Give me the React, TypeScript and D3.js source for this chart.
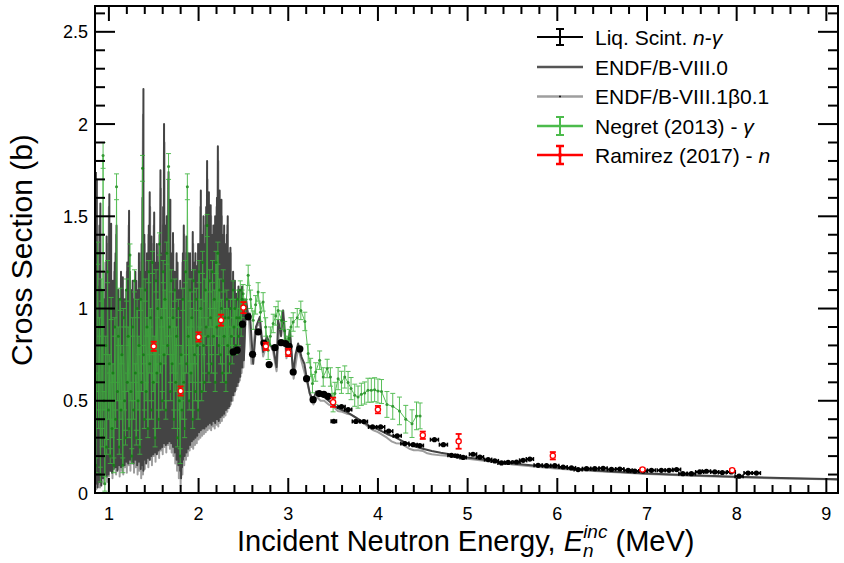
import React from "react";
import * as d3 from "d3";

// ---------------- DATA ----------------
const xMajorTicks = [1, 2, 3, 4, 5, 6, 7, 8, 9];
const xTickLabels = ["1", "2", "3", "4", "5", "6", "7", "8", "9"];
const yMajorTicks = [0, 0.5, 1, 1.5, 2, 2.5];
const yTickLabels = ["0", "0.5", "1", "1.5", "2", "2.5"];

// ENDF/B-VIII.0 resonance region: [E, peak, dip]
const endf80Dense: [number, number, number][] = [
  [0.855,1.74,0.05],[0.865,1.70,0.10],[0.875,1.12,0.03],[0.885,1.05,0.12],[0.895,1.45,0.06],[0.905,1.57,0.10],
  [0.915,0.95,0.04],[0.925,1.10,0.15],[0.935,0.90,0.08],[0.945,1.05,0.12],[0.955,0.85,0.10],[0.965,1.20,0.18],
  [0.975,1.39,0.09],[0.985,0.95,0.14],[0.995,1.10,0.10],[1.005,1.62,0.16],[1.015,1.20,0.12],[1.025,1.46,0.20],
  [1.035,1.00,0.11],[1.045,1.15,0.17],[1.055,0.90,0.13],[1.065,1.25,0.22],[1.075,1.30,0.14],[1.085,1.45,0.18],
  [1.095,1.00,0.12],[1.105,1.10,0.20],[1.115,0.95,0.15],[1.125,1.05,0.22],[1.135,1.20,0.14],[1.145,0.90,0.19],
  [1.155,1.17,0.16],[1.165,1.00,0.24],[1.175,1.05,0.15],[1.185,0.95,0.20],[1.195,1.10,0.17],[1.205,1.25,0.25],
  [1.215,1.05,0.16],[1.225,1.53,0.21],[1.235,1.20,0.18],[1.245,1.00,0.26],[1.255,1.10,0.17],[1.265,1.15,0.22],
  [1.275,0.95,0.16],[1.285,1.05,0.24],[1.295,1.20,0.18],[1.305,1.15,0.20],[1.315,0.95,0.15],[1.325,1.10,0.23],
  [1.335,1.30,0.17],[1.345,1.05,0.20],[1.355,1.20,0.13],[1.365,1.35,0.21],[1.375,1.60,0.15],[1.385,2.19,0.12],
  [1.395,1.40,0.18],[1.405,1.20,0.22],[1.415,1.10,0.16],[1.425,1.30,0.25],[1.435,1.25,0.19],[1.445,1.45,0.23],
  [1.455,1.63,0.18],[1.465,1.20,0.27],[1.475,1.39,0.20],[1.485,1.10,0.24],[1.495,1.30,0.21],[1.505,1.52,0.28],
  [1.515,1.25,0.22],[1.525,1.15,0.26],[1.535,1.35,0.21],[1.545,1.10,0.30],[1.555,1.25,0.23],[1.565,1.40,0.27],
  [1.575,1.75,0.24],[1.585,1.30,0.31],[1.595,1.20,0.25],[1.605,1.55,0.29],[1.615,2.00,0.27],[1.625,1.45,0.33],
  [1.635,1.30,0.26],[1.645,1.50,0.30],[1.655,1.35,0.27],[1.665,1.74,0.32],[1.675,1.40,0.28],[1.685,1.59,0.34],
  [1.695,1.25,0.27],[1.705,1.30,0.30],[1.715,1.41,0.25],[1.725,1.15,0.28],[1.735,1.20,0.22],[1.745,1.05,0.26],
  [1.755,1.30,0.18],[1.765,1.25,0.22],[1.775,1.10,0.15],[1.785,1.00,0.19],[1.795,1.15,0.12],[1.805,0.95,0.08],
  [1.815,1.10,0.14],[1.825,1.30,0.18],[1.835,1.45,0.22],[1.845,1.20,0.20],[1.855,1.10,0.26],[1.865,1.39,0.22],
  [1.875,1.25,0.28],[1.885,1.30,0.24],[1.895,1.15,0.30],[1.905,1.30,0.26],[1.915,1.20,0.32],[1.925,1.10,0.28],
  [1.935,1.415,0.31],[1.945,1.25,0.29],[1.955,1.20,0.34],[1.965,1.30,0.30],[1.975,1.10,0.33],[1.985,1.23,0.31],
  [1.995,1.35,0.36],[2.005,1.20,0.33],[2.015,1.35,0.37],[2.025,1.64,0.34],[2.035,1.40,0.38],[2.045,1.30,0.35],
  [2.055,1.50,0.39],[2.065,1.35,0.35],[2.075,1.25,0.38],[2.085,1.55,0.36],[2.095,1.80,0.40],[2.105,1.40,0.37],
  [2.115,1.63,0.41],[2.125,1.35,0.38],[2.135,1.56,0.40],[2.145,1.40,0.37],[2.155,1.30,0.42],[2.165,1.45,0.39],
  [2.175,1.30,0.41],[2.185,1.50,0.38],[2.195,1.40,0.43],[2.205,1.60,0.40],[2.215,1.88,0.42],[2.225,1.50,0.39],
  [2.235,1.64,0.44],[2.245,1.35,0.41],[2.255,1.59,0.43],[2.265,1.40,0.42],[2.275,1.30,0.46],[2.285,1.45,0.43],
  [2.295,1.35,0.47],[2.305,1.25,0.45],[2.315,1.40,0.48],[2.325,1.50,0.46],[2.335,1.30,0.50],[2.345,1.20,0.47],
  [2.355,1.33,0.52],[2.365,1.15,0.50],[2.375,1.10,0.55],[2.385,1.20,0.53],[2.395,1.05,0.58],[2.405,1.15,0.55],
  [2.415,1.00,0.60],[2.425,1.08,0.58],[2.435,1.05,0.63],[2.445,1.12,0.60],[2.455,1.00,0.66],[2.465,1.10,0.63],
  [2.475,1.05,0.70],[2.485,1.12,0.68],[2.495,0.98,0.74],[2.505,1.05,0.72],
];
const endf80Tail: [number, number][] = [
  [2.53,1.05],[2.55,0.97],[2.572,0.973],[2.609,0.70],[2.64,0.90],[2.683,0.955],[2.72,0.765],[2.76,0.85],
  [2.80,0.80],[2.832,0.79],[2.87,0.683],[2.887,0.937],[2.92,0.85],[2.943,0.99],[2.98,0.756],[3.018,0.88],
  [3.055,0.647],[3.08,0.75],[3.11,0.81],[3.148,0.737],[3.18,0.70],[3.204,0.629],[3.24,0.539],[3.277,0.503],
  [3.31,0.55],[3.35,0.53],[3.4,0.52],[3.45,0.50],[3.5,0.48],[3.55,0.46],[3.6,0.45],[3.65,0.44],[3.7,0.425],
  [3.8,0.395],[3.9,0.365],[4.0,0.345],[4.1,0.32],[4.2,0.30],[4.3,0.275],[4.4,0.255],[4.5,0.24],[4.6,0.228],
  [4.7,0.218],[4.8,0.21],[5.0,0.193],[5.5,0.16],[6.0,0.137],[6.5,0.119],[7.0,0.106],[7.5,0.096],[8.0,0.088],
  [8.5,0.081],[9.0,0.076],[9.15,0.074],
];

// ENDF/B-VIII.1beta0.1 resonance region: [E, peak, dip]
const endf81Dense: [number, number, number][] = [
  [0.86,1.70,0.02],[0.88,1.15,0.05],[0.90,1.50,0.03],[0.92,1.05,0.08],[0.94,1.10,0.05],[0.96,1.25,0.10],
  [0.98,1.35,0.06],[1.00,1.55,0.09],[1.02,1.40,0.12],[1.04,1.10,0.08],[1.06,1.20,0.14],[1.08,1.40,0.10],
  [1.10,1.05,0.13],[1.12,1.00,0.09],[1.14,1.15,0.12],[1.16,1.10,0.10],[1.18,1.00,0.14],[1.20,1.20,0.11],
  [1.22,1.45,0.15],[1.24,1.05,0.12],[1.26,1.10,0.16],[1.28,1.00,0.11],[1.30,1.15,0.14],[1.32,1.05,0.10],
  [1.34,1.25,0.12],[1.36,1.30,0.08],[1.38,2.05,0.10],[1.40,1.35,0.13],[1.42,1.25,0.17],[1.44,1.40,0.14],
  [1.46,1.55,0.18],[1.48,1.35,0.15],[1.50,1.45,0.20],[1.52,1.20,0.17],[1.54,1.30,0.22],[1.56,1.35,0.19],
  [1.58,1.65,0.23],[1.60,1.45,0.21],[1.62,1.90,0.25],[1.64,1.45,0.22],[1.66,1.70,0.26],[1.68,1.50,0.24],
  [1.70,1.25,0.22],[1.72,1.35,0.20],[1.74,1.15,0.16],[1.76,1.25,0.12],[1.78,1.05,0.08],[1.80,1.00,0.04],
  [1.82,1.25,0.10],[1.84,1.40,0.15],[1.86,1.30,0.18],[1.88,1.25,0.20],[1.90,1.25,0.23],[1.92,1.15,0.25],
  [1.94,1.35,0.24],[1.96,1.25,0.26],[1.98,1.15,0.27],[2.00,1.30,0.29],[2.02,1.55,0.30],[2.04,1.35,0.31],
  [2.06,1.45,0.32],[2.08,1.50,0.33],[2.10,1.70,0.34],[2.12,1.55,0.35],[2.14,1.50,0.34],[2.16,1.40,0.36],
  [2.18,1.45,0.35],[2.20,1.55,0.37],[2.22,1.80,0.36],[2.24,1.55,0.38],[2.26,1.50,0.39],[2.28,1.40,0.41],
  [2.30,1.30,0.42],[2.32,1.45,0.44],[2.34,1.25,0.46],[2.36,1.30,0.48],[2.38,1.10,0.50],[2.40,1.15,0.53],
  [2.42,1.05,0.56],[2.44,1.10,0.58],[2.46,1.05,0.61],[2.48,1.10,0.65],[2.50,1.00,0.68],
];
const endf81Tail: [number, number][] = [
  [2.53,1.02],[2.56,0.95],[2.59,0.70],[2.63,0.88],[2.68,0.93],[2.72,0.74],[2.77,0.83],[2.83,0.77],
  [2.87,0.66],[2.90,0.90],[2.94,0.96],[2.98,0.73],[3.02,0.86],[3.06,0.62],[3.11,0.79],[3.15,0.71],
  [3.21,0.60],[3.25,0.52],[3.28,0.48],[3.32,0.52],[3.36,0.50],[3.4,0.50],[3.45,0.48],[3.5,0.47],
  [3.55,0.445],[3.6,0.44],[3.65,0.43],[3.7,0.425],[3.75,0.41],[3.8,0.39],[3.85,0.375],[3.9,0.355],
  [3.95,0.34],[4.0,0.33],[4.05,0.315],[4.1,0.30],[4.15,0.28],[4.2,0.27],[4.25,0.268],[4.3,0.255],
  [4.35,0.24],[4.4,0.232],[4.45,0.232],[4.5,0.228],[4.55,0.215],[4.6,0.21],[4.7,0.204],[4.8,0.20],
  [5.0,0.186],[5.5,0.155],[6.0,0.132],[6.5,0.116],[7.0,0.103],[7.5,0.093],[8.0,0.085],[8.5,0.079],
  [9.0,0.074],[9.15,0.072],
];

// Negret (2013) - gamma: [E, sigma, err]
const negret: [number, number, number][] = [
  [0.855,0.15,0.04],[0.865,0.60,0.05],[0.875,1.30,0.06],[0.885,0.40,0.05],[0.895,0.90,0.05],[0.905,0.10,0.04],
  [0.915,1.10,0.06],[0.925,0.30,0.05],[0.935,1.83,0.07],[0.945,0.50,0.05],[0.955,0.05,0.04],[0.965,0.80,0.05],
  [0.975,0.25,0.04],[0.985,1.20,0.06],[0.995,0.45,0.05],[1.005,0.70,0.05],[1.015,0.20,0.04],[1.025,1.00,0.06],
  [1.035,0.35,0.05],[1.045,0.65,0.05],[1.055,0.15,0.04],[1.065,0.90,0.05],[1.075,0.40,0.05],[1.085,1.66,0.07],
  [1.095,0.55,0.05],[1.105,0.85,0.05],[1.115,0.25,0.04],[1.125,1.05,0.06],[1.135,0.45,0.05],[1.145,0.75,0.05],
  [1.155,0.15,0.04],[1.165,0.95,0.05],[1.175,0.50,0.05],[1.185,0.30,0.04],[1.195,1.10,0.06],[1.205,0.60,0.05],
  [1.215,0.85,0.05],[1.225,0.35,0.05],[1.235,1.29,0.06],[1.245,0.55,0.05],[1.255,0.20,0.04],[1.265,0.90,0.05],
  [1.275,0.45,0.05],[1.285,1.15,0.06],[1.295,0.65,0.05],[1.305,0.30,0.04],[1.315,1.00,0.05],[1.325,0.50,0.05],
  [1.335,0.80,0.05],[1.345,0.25,0.04],[1.355,1.05,0.06],[1.365,0.60,0.05],[1.375,1.76,0.07],[1.385,0.75,0.05],
  [1.395,0.40,0.05],[1.405,1.10,0.06],[1.415,0.55,0.05],[1.425,0.90,0.05],[1.435,0.35,0.05],[1.445,1.20,0.06],
  [1.455,0.70,0.05],[1.465,0.95,0.05],[1.475,0.45,0.05],[1.485,1.25,0.06],[1.495,0.60,0.05],[1.505,0.80,0.05],
  [1.515,0.30,0.05],[1.525,1.15,0.06],[1.535,0.65,0.05],[1.545,1.00,0.05],[1.555,0.40,0.05],[1.565,1.35,0.06],
  [1.575,0.70,0.05],[1.585,0.95,0.05],[1.595,0.50,0.05],[1.605,1.20,0.06],[1.615,0.75,0.05],[1.625,1.05,0.05],
  [1.635,0.45,0.05],[1.645,1.30,0.06],[1.655,0.80,0.05],[1.665,1.77,0.07],[1.675,0.90,0.05],[1.685,0.55,0.05],
  [1.695,1.15,0.06],[1.705,0.70,0.05],[1.715,0.95,0.05],[1.725,0.40,0.05],[1.735,1.10,0.06],[1.745,0.60,0.05],
  [1.755,0.85,0.05],[1.765,0.30,0.05],[1.775,1.00,0.05],[1.785,0.50,0.05],[1.795,0.20,0.04],[1.805,0.75,0.05],
  [1.815,0.45,0.05],[1.825,1.05,0.06],[1.835,0.60,0.05],[1.845,0.35,0.05],[1.855,1.20,0.06],[1.865,0.70,0.05],
  [1.875,1.66,0.07],[1.885,0.85,0.05],[1.895,0.50,0.05],[1.905,1.10,0.06],[1.915,0.65,0.05],[1.925,0.95,0.05],
  [1.935,0.40,0.05],[1.945,1.15,0.06],[1.955,0.75,0.05],[1.965,0.55,0.05],[1.975,1.05,0.06],[1.985,0.80,0.05],
  [1.995,0.45,0.05],[2.005,1.20,0.06],[2.015,0.85,0.05],[2.025,1.00,0.05],[2.035,0.55,0.05],[2.045,1.25,0.06],
  [2.055,0.80,0.05],[2.065,0.60,0.05],[2.075,1.10,0.06],[2.085,0.90,0.05],[2.095,1.45,0.06],[2.105,0.85,0.05],
  [2.115,0.65,0.05],[2.125,1.15,0.06],[2.135,0.95,0.05],[2.145,0.70,0.05],[2.155,1.20,0.06],[2.165,0.85,0.05],
  [2.175,1.05,0.05],[2.185,0.60,0.05],[2.195,1.25,0.06],[2.205,0.90,0.05],[2.215,1.30,0.06],[2.225,0.80,0.05],
  [2.235,1.10,0.06],[2.245,0.75,0.05],[2.255,1.00,0.05],[2.265,0.65,0.05],[2.275,1.15,0.06],[2.285,0.85,0.05],
  [2.295,0.95,0.05],[2.305,0.60,0.05],[2.315,1.05,0.05],[2.325,0.80,0.05],[2.335,0.95,0.05],[2.345,0.70,0.05],
  [2.355,1.00,0.05],[2.365,0.85,0.05],[2.375,0.75,0.05],[2.385,1.10,0.05],[2.395,0.90,0.05],[2.405,1.00,0.05],
  [2.415,0.80,0.05],[2.425,0.95,0.05],[2.435,1.05,0.05],[2.445,0.85,0.05],[2.455,0.95,0.05],[2.465,1.10,0.05],
  [2.475,0.90,0.05],[2.485,1.05,0.05],[2.497,1.08,0.05],[2.525,1.00,0.05],[2.553,1.18,0.055],[2.58,1.05,0.05],
  [2.609,0.937,0.05],[2.636,1.02,0.05],[2.664,1.09,0.05],[2.69,0.98,0.05],[2.72,1.036,0.05],[2.748,0.90,0.05],
  [2.776,0.774,0.05],[2.80,0.85,0.05],[2.832,0.919,0.05],[2.86,0.96,0.05],[2.887,0.99,0.05],[2.925,0.937,0.05],
  [2.96,0.88,0.05],[2.99,0.80,0.05],[3.01,0.837,0.05],[3.03,0.90,0.05],[3.055,0.927,0.05],[3.10,0.95,0.05],
  [3.14,0.99,0.05],[3.185,0.93,0.05],[3.222,0.756,0.05],[3.25,0.68,0.05],[3.27,0.593,0.05],[3.306,0.656,0.05],
  [3.35,0.72,0.05],[3.39,0.629,0.05],[3.434,0.675,0.05],[3.47,0.629,0.05],[3.50,0.49,0.05],[3.52,0.54,0.06],
  [3.556,0.62,0.06],[3.593,0.60,0.06],[3.63,0.629,0.06],[3.667,0.599,0.06],[3.70,0.566,0.06],[3.741,0.53,0.06],
  [3.778,0.52,0.06],[3.815,0.535,0.06],[3.852,0.542,0.06],[3.889,0.557,0.065],[3.926,0.557,0.065],[3.963,0.56,0.065],
  [4.0,0.553,0.065],[4.04,0.55,0.065],[4.10,0.48,0.07],[4.165,0.47,0.07],[4.24,0.445,0.075],[4.31,0.40,0.075],
  [4.38,0.376,0.075],[4.43,0.418,0.075],[4.47,0.418,0.07],
];

// Liquid scintillator n-gamma: [E, sigma, half bin width]
const liqScint: [number, number, number][] = [
  [2.386,0.765,0.02],[2.43,0.774,0.02],[2.49,0.915,0.02],[2.553,0.955,0.02],[2.602,0.752,0.02],[2.665,0.873,0.02],
  [2.728,0.813,0.02],[2.787,0.696,0.02],[2.851,0.788,0.02],[2.92,0.815,0.02],[2.97,0.81,0.02],[3.01,0.795,0.02],
  [3.055,0.656,0.02],[3.129,0.781,0.02],[3.204,0.620,0.02],[3.277,0.506,0.02],[3.344,0.539,0.02],[3.397,0.535,0.02],
  [3.445,0.524,0.02],[3.508,0.389,0.03],[3.594,0.468,0.04],[3.668,0.452,0.04],[3.754,0.388,0.04],[3.843,0.387,0.04],
  [3.94,0.358,0.045],[4.03,0.358,0.045],[4.12,0.335,0.045],[4.215,0.31,0.045],[4.30,0.268,0.045],[4.393,0.262,0.045],
  [4.467,0.257,0.04],[4.63,0.289,0.045],[4.73,0.262,0.045],[4.82,0.204,0.04],[4.885,0.200,0.035],[4.95,0.193,0.035],
  [5.06,0.21,0.04],[5.137,0.195,0.04],[5.229,0.181,0.04],[5.303,0.174,0.04],[5.378,0.163,0.04],[5.452,0.166,0.04],
  [5.545,0.168,0.04],[5.619,0.177,0.04],[5.694,0.184,0.04],[5.786,0.150,0.045],[5.88,0.148,0.045],[5.972,0.148,0.045],
  [6.065,0.141,0.045],[6.158,0.136,0.045],[6.232,0.127,0.045],[6.326,0.132,0.045],[6.418,0.132,0.045],[6.511,0.134,0.045],
  [6.604,0.128,0.045],[6.697,0.130,0.045],[6.79,0.123,0.045],[6.864,0.119,0.045],[6.957,0.119,0.045],[7.05,0.123,0.045],
  [7.16,0.123,0.045],[7.246,0.123,0.045],[7.33,0.127,0.045],[7.40,0.105,0.045],[7.495,0.105,0.045],[7.588,0.114,0.045],
  [7.663,0.118,0.045],[7.756,0.114,0.045],[7.84,0.111,0.045],[7.94,0.114,0.045],[8.027,0.091,0.045],[8.127,0.108,0.045],
  [8.22,0.108,0.045],
];

// Ramirez (2017) - n: [E, sigma, err]
const ramirez: [number, number, number][] = [
  [1.50,0.795,0.025],[1.80,0.553,0.025],[2.00,0.846,0.025],[2.25,0.937,0.03],[2.50,1.005,0.03],
  [2.75,0.795,0.02],[3.00,0.762,0.02],[3.50,0.492,0.025],[4.00,0.452,0.02],[4.50,0.313,0.02],
  [4.90,0.280,0.04],[5.95,0.202,0.02],[6.95,0.127,0.006],[7.95,0.123,0.006],
];

const legendLabels = ["Liq. Scint. n-γ", "ENDF/B-VIII.0", "ENDF/B-VIII.1β0.1", "Negret (2013) - γ", "Ramirez (2017) - n"];

// ---------------- STYLE ----------------
const FONT = "'Liberation Sans', Arial, Helvetica, sans-serif";
const C_DARK = "#444444";
const C_LIGHT = "#9e9e9e";
const C_GREEN = "#3cb43c";
const C_GREEN_MK = "#128812";
const C_RED = "#ff0000";

export default function App() {
  const L = 95, R = 838, T = 6, B = 493;
  const x = d3.scaleLinear().domain([0.845, 9.13]).range([L, R]);
  const y = d3.scaleLinear().domain([0, 2.64]).range([B, T]);

  const line = d3.line<[number, number]>().x(d => x(d[0])).y(d => y(d[1]));

  const e81: [number, number][] = [
    ...endf81Dense.flatMap(([e, h, l]) => [[e, h], [e, l]] as [number, number][]),
    ...endf81Tail,
  ];
  const e80: [number, number][] = [
    ...endf80Dense.flatMap(([e, h, l]) => [[e, h], [e, l]] as [number, number][]),
    ...endf80Tail,
  ];
  const greenPts: [number, number][] = negret.map(([e, v]) => [e, v]);

  const xMinor = d3.range(0.8, 9.21, 0.2).filter(v => v > 0.845 && v < 9.13 && Math.abs(v - Math.round(v)) > 0.01);
  const yMinor = d3.range(0, 2.64, 0.1).filter(v => Math.abs(v * 2 - Math.round(v * 2)) > 0.01);

  const legendY = [37, 67, 96.5, 126, 155];
  const lx0 = 537, lx1 = 583, lxc = 560, ltx = 595;

  return (
    <svg width={844} height={563} style={{ position: "absolute", left: 0, top: 0, background: "#fff" }} fontFamily={FONT}>
      <defs>
        <clipPath id="plotclip">
          <rect x={L} y={T} width={R - L} height={B - T} />
        </clipPath>
      </defs>
      <rect x={0} y={0} width={844} height={563} fill="#fff" />

      <g clipPath="url(#plotclip)">
        {/* ENDF VIII.1 */}
        <path d={line(e81) || ""} fill="none" stroke={C_LIGHT} strokeWidth={2} strokeLinejoin="round" />
        {/* ENDF VIII.0 */}
        <path d={line(e80) || ""} fill="none" stroke={C_DARK} strokeWidth={2} strokeLinejoin="round" />

        {/* Negret */}
        <g opacity={0.85}>
          <path d={line(greenPts) || ""} fill="none" stroke={C_GREEN} strokeWidth={1} />
          {negret.map(([e, v, err], i) => (
            <g key={"g" + i} stroke={C_GREEN} strokeWidth={1}>
              <line x1={x(e)} x2={x(e)} y1={y(v - err)} y2={y(v + err)} />
              <line x1={x(e) - 2.5} x2={x(e) + 2.5} y1={y(v - err)} y2={y(v - err)} />
              <line x1={x(e) - 2.5} x2={x(e) + 2.5} y1={y(v + err)} y2={y(v + err)} />
            </g>
          ))}
          {negret.map(([e, v], i) => (
            <circle key={"gm" + i} cx={x(e)} cy={y(v)} r={1.5} fill={C_GREEN_MK} />
          ))}
        </g>

        {/* Liquid scintillator */}
        {liqScint.map(([e, v, dx], i) => (
          <g key={"l" + i}>
            <line x1={x(e - dx)} x2={x(e + dx)} y1={y(v)} y2={y(v)} stroke="#000" strokeWidth={2} />
            <line x1={x(e - dx)} x2={x(e - dx)} y1={y(v) - 2} y2={y(v) + 2} stroke="#000" strokeWidth={1.5} />
            <line x1={x(e + dx)} x2={x(e + dx)} y1={y(v) - 2} y2={y(v) + 2} stroke="#000" strokeWidth={1.5} />
            <circle cx={x(e)} cy={y(v)} r={e < 3.48 ? 3.6 : 2.6} fill="#000" />
          </g>
        ))}

        {/* Ramirez */}
        {ramirez.map(([e, v, err], i) => (
          <g key={"r" + i} stroke={C_RED} strokeWidth={1.8}>
            <line x1={x(e)} x2={x(e)} y1={y(v - err)} y2={y(v + err)} />
            <line x1={x(e) - 3} x2={x(e) + 3} y1={y(v - err)} y2={y(v - err)} />
            <line x1={x(e) - 3} x2={x(e) + 3} y1={y(v + err)} y2={y(v + err)} />
            <circle cx={x(e)} cy={y(v)} r={2.6} fill="#fff" strokeWidth={1.3} />
          </g>
        ))}
      </g>

      {/* Frame */}
      <rect x={L} y={T} width={R - L} height={B - T} fill="none" stroke="#000" strokeWidth={2} />

      {/* Ticks */}
      <g stroke="#000" strokeWidth={2}>
        {xMajorTicks.map(t => (
          <g key={"xt" + t}>
            <line x1={x(t)} x2={x(t)} y1={B} y2={B - 15} />
            <line x1={x(t)} x2={x(t)} y1={T} y2={T + 15} />
          </g>
        ))}
        {xMinor.map((t, i) => (
          <g key={"xm" + i}>
            <line x1={x(t)} x2={x(t)} y1={B} y2={B - 8} />
            <line x1={x(t)} x2={x(t)} y1={T} y2={T + 8} />
          </g>
        ))}
        {yMajorTicks.map(t => (
          <g key={"yt" + t}>
            <line x1={L} x2={L + 20} y1={y(t)} y2={y(t)} />
            <line x1={R} x2={R - 20} y1={y(t)} y2={y(t)} />
          </g>
        ))}
        {yMinor.map((t, i) => (
          <g key={"ym" + i}>
            <line x1={L} x2={L + 10} y1={y(t)} y2={y(t)} />
            <line x1={R} x2={R - 10} y1={y(t)} y2={y(t)} />
          </g>
        ))}
      </g>

      {/* Tick labels */}
      <g fontSize={18} fill="#000">
        {xMajorTicks.map((t, i) => (
          <text key={"xl" + t} x={x(t)} y={520} textAnchor="middle">{xTickLabels[i]}</text>
        ))}
        {yMajorTicks.map((t, i) => (
          <text key={"yl" + t} x={88} y={y(t) + 6.5} textAnchor="end">{yTickLabels[i]}</text>
        ))}
      </g>

      {/* Axis titles */}
      <text x={237} y={551} fontSize={29} fill="#000">
        Incident Neutron Energy,{" "}
        <tspan fontStyle="italic">E</tspan>
        <tspan fontStyle="italic" fontSize={19} dy={6}>n</tspan>
        <tspan fontStyle="italic" fontSize={19} dx={-10.5} dy={-19}>inc</tspan>
        <tspan dy={13}> (MeV)</tspan>
      </text>
      <text transform="translate(32,250) rotate(-90)" textAnchor="middle" fontSize={30} fill="#000">
        Cross Section (b)
      </text>

      {/* Legend */}
      <g fontSize={21} fill="#000">
        {/* Liq */}
        <line x1={lx0} x2={lx1} y1={legendY[0]} y2={legendY[0]} stroke="#000" strokeWidth={2} />
        <line x1={lxc} x2={lxc} y1={legendY[0] - 8} y2={legendY[0] + 8} stroke="#000" strokeWidth={2} />
        <line x1={lxc - 4} x2={lxc + 4} y1={legendY[0] - 8} y2={legendY[0] - 8} stroke="#000" strokeWidth={2} />
        <line x1={lxc - 4} x2={lxc + 4} y1={legendY[0] + 8} y2={legendY[0] + 8} stroke="#000" strokeWidth={2} />
        <text x={ltx} y={legendY[0] + 7.5}>
          Liq. Scint. <tspan fontStyle="italic">n</tspan>-<tspan fontStyle="italic">γ</tspan>
        </text>
        {/* VIII.0 */}
        <line x1={lx0} x2={lx1} y1={legendY[1]} y2={legendY[1]} stroke="#555" strokeWidth={2.5} />
        <text x={ltx} y={legendY[1] + 7.5}>{legendLabels[1]}</text>
        {/* VIII.1 */}
        <line x1={lx0} x2={lx1} y1={legendY[2]} y2={legendY[2]} stroke={C_LIGHT} strokeWidth={2.5} />
        <circle cx={lxc} cy={legendY[2]} r={0.9} fill="#000" />
        <text x={ltx} y={legendY[2] + 7.5}>{legendLabels[2]}</text>
        {/* Negret */}
        <line x1={lx0} x2={lx1} y1={legendY[3]} y2={legendY[3]} stroke="#4cbb4c" strokeWidth={2.5} />
        <line x1={lxc} x2={lxc} y1={legendY[3] - 9} y2={legendY[3] + 9} stroke="#4cbb4c" strokeWidth={2} />
        <line x1={lxc - 4} x2={lxc + 4} y1={legendY[3] - 9} y2={legendY[3] - 9} stroke="#4cbb4c" strokeWidth={2} />
        <line x1={lxc - 4} x2={lxc + 4} y1={legendY[3] + 9} y2={legendY[3] + 9} stroke="#4cbb4c" strokeWidth={2} />
        <text x={ltx} y={legendY[3] + 7.5}>
          Negret (2013) - <tspan fontStyle="italic">γ</tspan>
        </text>
        {/* Ramirez */}
        <line x1={lx0} x2={lx1} y1={legendY[4]} y2={legendY[4]} stroke={C_RED} strokeWidth={2.5} />
        <line x1={lxc} x2={lxc} y1={legendY[4] - 9} y2={legendY[4] + 9} stroke={C_RED} strokeWidth={2.5} />
        <line x1={lxc - 4} x2={lxc + 4} y1={legendY[4] - 9} y2={legendY[4] - 9} stroke={C_RED} strokeWidth={2.5} />
        <line x1={lxc - 4} x2={lxc + 4} y1={legendY[4] + 9} y2={legendY[4] + 9} stroke={C_RED} strokeWidth={2.5} />
        <circle cx={lxc} cy={legendY[4]} r={2} fill={C_RED} />
        <text x={ltx} y={legendY[4] + 7.5}>
          Ramirez (2017) - <tspan fontStyle="italic">n</tspan>
        </text>
      </g>
    </svg>
  );
}
